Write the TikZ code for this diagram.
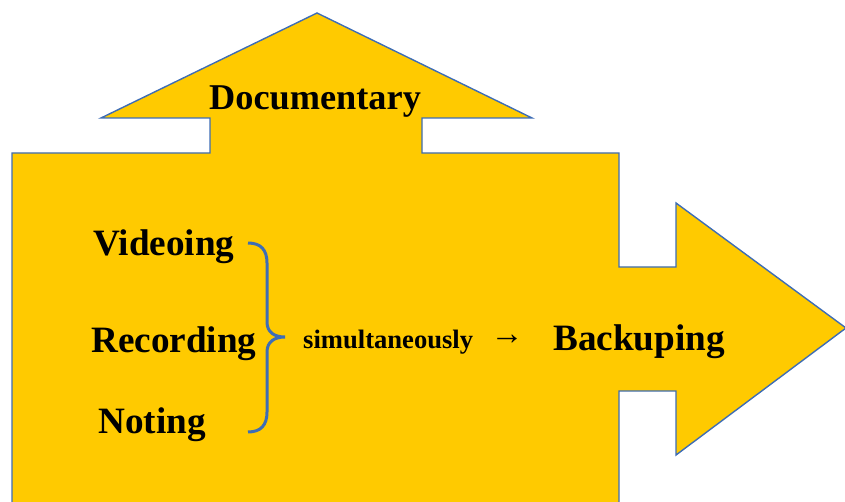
\documentclass[tikz,border=0pt]{standalone}
\usepackage{fontspec}
\setmainfont{Liberation Serif}
\definecolor{gold}{HTML}{FFCA00}
\definecolor{edgeblue}{HTML}{3E6DB5}
\begin{document}
\begin{tikzpicture}[x=1pt,y=-1pt,
  shapeout/.style={fill=gold,draw=edgeblue,line width=1.4pt,line join=miter},
  bigtext/.style={anchor=base west,inner sep=0pt,font=\fontsize{37.2}{40}\selectfont\bfseries},
  smalltext/.style={anchor=base west,inner sep=0pt,font=\fontsize{26.6}{30}\selectfont\bfseries},
  bracestyle/.style={draw=edgeblue,line width=3pt}]
\useasboundingbox (0,0) rectangle (845,502);
\begin{scope}
\clip (0,0) rectangle (845,502);
% combined body with upward and rightward arrows
\draw[shapeout] (12,520) -- (12,153) -- (210,153) -- (210,118) -- (101,118)
  -- (317,13) -- (532,118) -- (422,118) -- (422,153) -- (619,153)
  -- (619,267) -- (676,267) -- (676,203) -- (846,328) -- (676,455)
  -- (676,391) -- (619,391) -- (619,520) -- cycle;
\end{scope}
\node[bigtext,font=\fontsize{36.3}{40}\selectfont\bfseries] (doc) at (209,110) {Documentary};
\node[bigtext] (vid) at (93,256) {Videoing};
\node[bigtext] (rec) at (91,352) {Recording};
\node[bigtext] (note) at (98,433) {Noting};
\node[smalltext] (sim) at (303,348) {simultaneously};
\node[inner sep=0pt,font=\fontsize{33}{36}\selectfont\bfseries] (arr) at (507,340) {→};
\node[bigtext] (back) at (553,350) {Backuping};
% right curly brace grouping the three activities
\coordinate (btop) at (248,243);
\coordinate (btip) at (285,337);
\coordinate (bbot) at (248,432);
\draw[bracestyle] (btop) .. controls (261,243) and (267,250) .. (267,263)
  -- (267,322) .. controls (267,332) and (274,337) .. (btip)
  .. controls (274,337) and (267,342) .. (267,352)
  -- (267,412) .. controls (267,425) and (261,432) .. (bbot);
\end{tikzpicture}
\end{document}
